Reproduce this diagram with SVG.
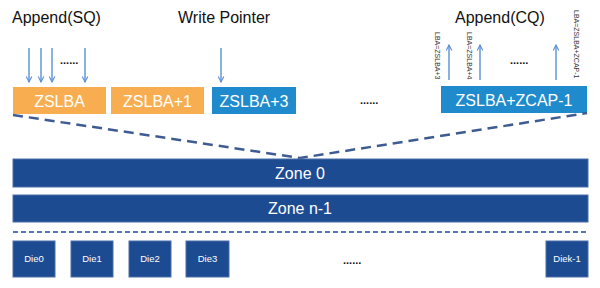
<svg xmlns="http://www.w3.org/2000/svg" width="600" height="288" viewBox="0 0 600 288">
<defs>
<marker id="ah" viewBox="0 0 10 10" refX="9" refY="5" markerWidth="7" markerHeight="7" orient="auto" markerUnits="userSpaceOnUse">
<path d="M1,1 L9,5 L1,9" fill="none" stroke="#5b8fd6" stroke-width="1.6"/>
</marker>
<style>
text{font-family:"Liberation Sans",Arial,sans-serif}
.title{font-size:16px;fill:#111}
.org{fill:#f8ae50}
.blu{fill:#1f8bcc}
.lbl{font-size:16px;fill:#fff;text-anchor:middle}
.zone{fill:#1d4b91;stroke:#4b6fa8;stroke-width:1}
.zl{font-size:16px;fill:#fff;text-anchor:middle}
.die{fill:#1d4b91;stroke:#4b6fa8;stroke-width:1}
.dl{font-size:9.5px;fill:#fff;text-anchor:middle}
.arr{stroke:#5b8fd6;stroke-width:1.4;fill:none;marker-end:url(#ah)}
.dots{font-size:11px;fill:#111;font-weight:bold}
.vt{font-size:7px;fill:#333}
</style>
</defs>
<rect width="600" height="288" fill="#fff"/>
<text class="title" x="12" y="23">Append(SQ)</text>
<text class="title" x="178" y="23">Write Pointer</text>
<text class="title" x="455" y="23">Append(CQ)</text>

<g id="b0"><rect class="org" x="13" y="87" width="93" height="27"/><text class="lbl" x="59.5" y="106.5">ZSLBA</text></g>
<g id="b1"><rect class="org" x="111" y="87" width="93" height="27"/><text class="lbl" x="157.5" y="106.5">ZSLBA+1</text></g>
<g id="b3"><rect class="blu" x="212" y="87" width="84" height="27"/><text class="lbl" x="254" y="106.5">ZSLBA+3</text></g>
<text class="dots" x="360" y="104">......</text>
<g id="bz"><rect class="blu" x="441" y="86" width="146" height="27"/><text class="lbl" x="514" y="105.5">ZSLBA+ZCAP-1</text></g>

<g id="connectors">
<line class="arr" x1="29" y1="48" x2="29" y2="82"/>
<line class="arr" x1="41" y1="48" x2="41" y2="82"/>
<line class="arr" x1="52" y1="48" x2="52" y2="82"/>
<line class="arr" x1="85" y1="48" x2="85" y2="82"/>
<line class="arr" x1="221" y1="48" x2="221" y2="82"/>
<line class="arr" x1="449" y1="80" x2="449" y2="45"/>
<line class="arr" x1="480" y1="80" x2="480" y2="45"/>
<line class="arr" x1="556" y1="80" x2="556" y2="45"/>
<path d="M13,115 L300,158 L587,113" fill="none" stroke="#3e5c92" stroke-width="2.5" stroke-dasharray="10,6"/>
<line x1="13" y1="232" x2="587" y2="232" stroke="#1d4b91" stroke-width="1.5" stroke-dasharray="5,3"/>
</g>
<text class="dots" x="60" y="64">......</text>
<text class="dots" x="510" y="64">......</text>
<text class="vt" transform="translate(435,32) rotate(90)">LBA=ZSLBA+3</text>
<text class="vt" transform="translate(467,32) rotate(90)">LBA=ZSLBA+4</text>
<text class="vt" transform="translate(574,10) rotate(90)">LBA=ZSLBA+ZCAP-1</text>

<g id="zone0"><rect class="zone" x="13" y="159" width="575" height="28"/><text class="zl" x="300" y="179">Zone 0</text></g>
<g id="zonen"><rect class="zone" x="13" y="195" width="575" height="27"/><text class="zl" x="300" y="214">Zone n-1</text></g>

<g id="die0"><rect class="die" x="13" y="241" width="42" height="36"/><text class="dl" x="34" y="262">Die0</text></g>
<g id="die1"><rect class="die" x="71" y="241" width="42" height="36"/><text class="dl" x="92" y="262">Die1</text></g>
<g id="die2"><rect class="die" x="129" y="241" width="42" height="36"/><text class="dl" x="150" y="262">Die2</text></g>
<g id="die3"><rect class="die" x="186" y="241" width="43" height="36"/><text class="dl" x="207.5" y="262">Die3</text></g>
<text class="dots" x="343" y="264">......</text>
<g id="diek"><rect class="die" x="546" y="241" width="42" height="36"/><text class="dl" x="567" y="262">Diek-1</text></g>
</svg>
